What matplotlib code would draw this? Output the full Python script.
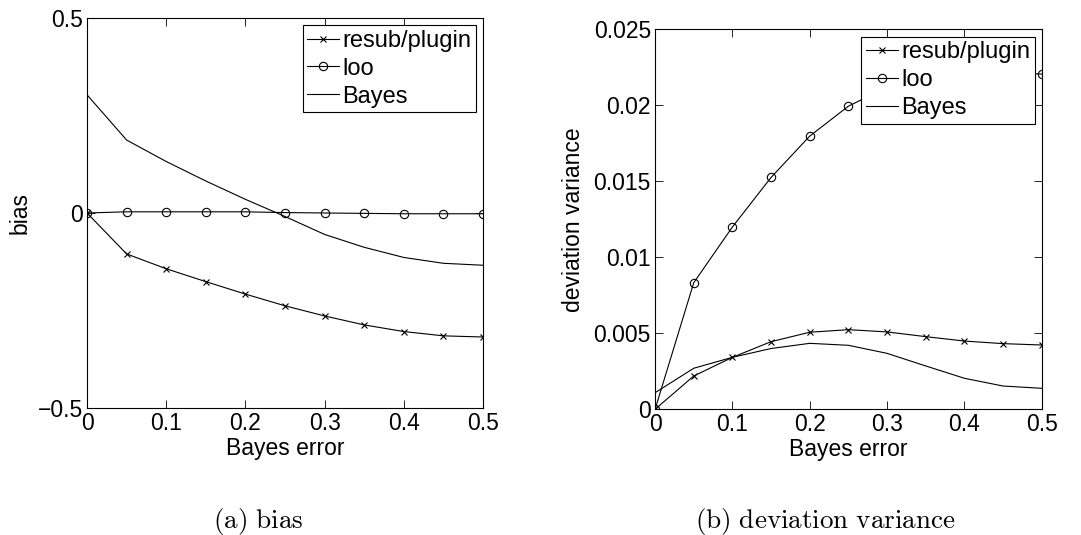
import matplotlib.pyplot as plt
import numpy as np

plt.rcParams['font.family'] = ['Liberation Sans', 'DejaVu Sans']
plt.rcParams['mathtext.fontset'] = 'cm'

# data
bayes_err = [0, 0.05, 0.1, 0.15, 0.2, 0.25, 0.3, 0.35, 0.4, 0.45, 0.5]

bias_resub = [0, -0.105, -0.143, -0.176, -0.208, -0.238, -0.264, -0.287, -0.304, -0.315, -0.318]
bias_loo = [0, 0.003, 0.003, 0.003, 0.003, 0.001, 0.0, -0.001, -0.002, -0.002, -0.002]
bias_bayes = [0.303, 0.187, 0.132, 0.082, 0.035, -0.009, -0.055, -0.088, -0.114, -0.129, -0.134]

var_resub = [0, 0.00219, 0.00342, 0.00445, 0.00507, 0.00524, 0.00509, 0.00478, 0.00449, 0.00432, 0.00423]
var_loo = [0, 0.00833, 0.0120, 0.01526, 0.01798, 0.01995, 0.0212, 0.0218, 0.0221, 0.0222, 0.02206]
var_bayes = [0.00109, 0.0027, 0.00342, 0.0040, 0.00434, 0.00421, 0.00368, 0.00285, 0.00204, 0.00153, 0.00138]

x_ticks = [0, 0.1, 0.2, 0.3, 0.4, 0.5]
x_ticklabels = ['0', '0.1', '0.2', '0.3', '0.4', '0.5']

fig = plt.figure(figsize=(10.81, 5.35), dpi=100)
ax1 = fig.add_axes([0.0805, 0.2374, 0.3663, 0.729])
ax2 = fig.add_axes([0.606, 0.235, 0.3577, 0.71])

fs = 16.5


def draw(ax, resub, loo, bayes):
    ax.plot(bayes_err, resub, color='k', lw=0.8, marker='x', ms=4, mew=0.8, label='resub/plugin')
    ax.plot(bayes_err, loo, color='k', lw=0.8, marker='o', ms=6, mfc='none', mew=0.8, label='loo')
    ax.plot(bayes_err, bayes, color='k', lw=0.8, label='Bayes')
    ax.set_xlim(0, 0.5)
    ax.set_xticks(x_ticks)
    ax.set_xticklabels(x_ticklabels)
    ax.tick_params(direction='in', top=True, right=True, labelsize=fs, length=6, width=0.6, pad=3)
    for s in ax.spines.values():
        s.set_linewidth(0.8)
    ax.set_xlabel('Bayes error', fontsize=fs, labelpad=1)
    leg = ax.legend(loc='upper right', fontsize=17, frameon=True, fancybox=False,
                    edgecolor='k', handlelength=1.35, handletextpad=0.13,
                    borderpad=0.2, labelspacing=0.25, borderaxespad=0.3)
    leg.get_frame().set_linewidth(0.8)
    leg.get_frame().set_alpha(1)


draw(ax1, bias_resub, bias_loo, bias_bayes)
ax1.set_ylim(-0.5, 0.5)
ax1.set_yticks([-0.5, 0, 0.5])
ax1.set_yticklabels(['\u22120.5', '0', '0.5'])
ax1.set_ylabel('bias', fontsize=fs, labelpad=4)

draw(ax2, var_resub, var_loo, var_bayes)
ax2.set_ylim(0, 0.025)
ax2.set_yticks([0, 0.005, 0.01, 0.015, 0.02, 0.025])
ax2.set_yticklabels(['0', '0.005', '0.01', '0.015', '0.02', '0.025'])
ax2.set_ylabel('deviation variance', fontsize=fs, labelpad=6)

fig.text(0.2387, 0.013, r'$\mathrm{(a)\ bias}$', fontsize=19.5, ha='center')
fig.text(0.7637, 0.013, r'$\mathrm{(b)\ deviation\ variance}$', fontsize=19.5, ha='center')

fig.savefig('out.png', dpi=100)
